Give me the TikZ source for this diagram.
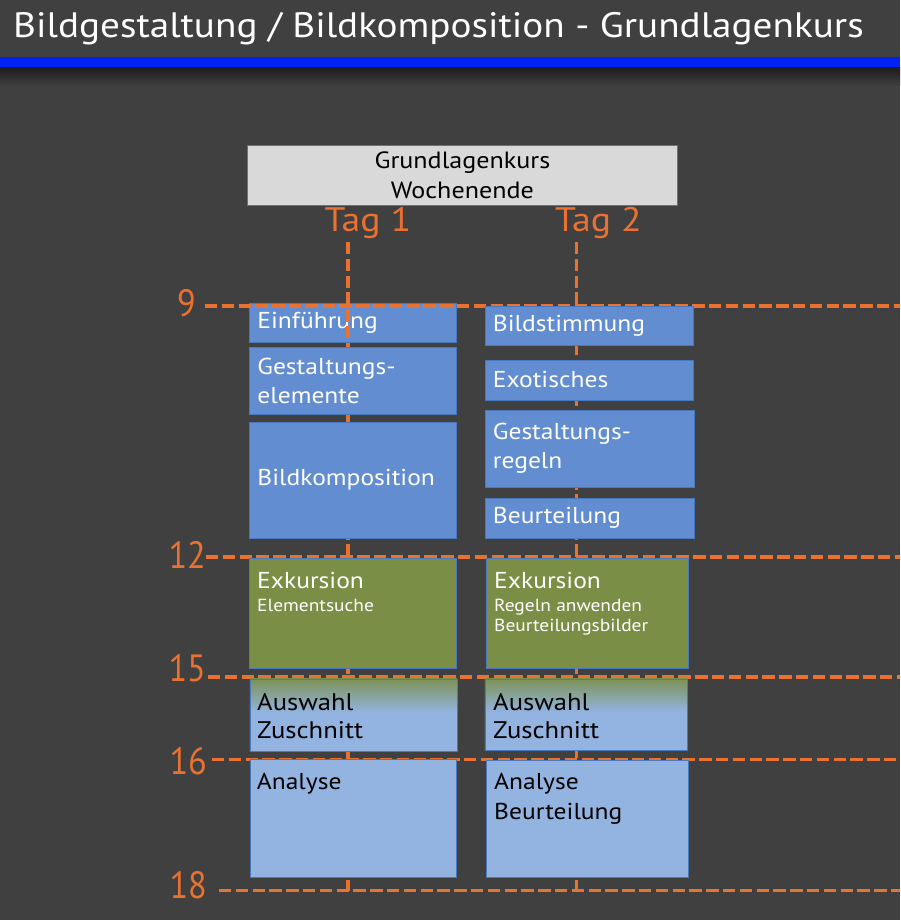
\documentclass[tikz,border=0pt]{standalone}
\usepackage{fontspec}
\setmainfont{PT Sans}[FakeStretch=1.11]
\newfontfamily\numfont{PT Sans}[FakeStretch=0.9]
\definecolor{bg}{HTML}{404040}
\definecolor{orng}{HTML}{EB7131}
\definecolor{bluebar}{HTML}{0022F5}
\definecolor{mblue}{HTML}{628DD0}
\definecolor{mblueb}{HTML}{4A78BC}
\definecolor{grn}{HTML}{7A8F45}
\definecolor{lblue}{HTML}{93B3E0}
\definecolor{hdrgray}{HTML}{D9D9D9}
\pgfdeclareverticalshading{auswshade}{100bp}{color(0bp)=(lblue); color(52bp)=(lblue); color(78bp)=(grn); color(100bp)=(grn)}
\tikzset{
  dline/.style={draw=orng, line width=3.5pt, dash pattern=on 12.3pt off 4.5pt},
  boxbase/.style={draw=mblueb, line width=0.8pt, anchor=north west, inner ysep=0pt, inner xsep=8pt, align=left},
  bbox/.style={boxbase, fill=mblue, text=white, font=\fontsize{23}{28.7}\selectfont},
  gbox/.style={boxbase, fill=grn},
  lbox/.style={boxbase, fill=lblue},
  gradbox/.style={boxbase, shade, shading=auswshade},
  hourlbl/.style={text=orng, anchor=base east, inner sep=0pt, font=\numfont\fontsize{38}{40}\selectfont},
  taglbl/.style={text=orng, anchor=base, inner sep=0pt, font=\fontsize{34}{36}\selectfont},
  wtxt/.style={text=white, anchor=base west, inner sep=0pt},
  ktxt/.style={text=black, anchor=base west, inner sep=0pt},
}
\begin{document}
\begin{tikzpicture}[x=1pt,y=-1pt]
\fill[bg] (0,0) rectangle (900,920);
\useasboundingbox (0,0) rectangle (900,920);
% title bar
\shade[top color=black!55!bg, bottom color=bg] (0,67.5) rectangle (900,86);
\fill[bluebar] (0,57.5) rectangle (900,67.5);
\node[text=white, anchor=base west, inner sep=0pt, font=\fontsize{35.3}{40}\selectfont] (title) at (13,37.5) {Bildgestaltung / Bildkomposition - Grundlagenkurs};

% header
\node[draw=mblueb, line width=0.8pt, fill=hdrgray, anchor=north west, minimum width=430pt, minimum height=60pt, inner sep=0pt, align=center, font=\fontsize{23.5}{30}\selectfont] (hdr) at (247,145) {Grundlagenkurs\\Wochenende};
\node[taglbl] (tag1) at (368,231) {Tag 1};
\node[taglbl] (tag2) at (598.4,231) {Tag 2};

% hour labels
\node[hourlbl] (h9) at (196,316.5) {9};
\node[hourlbl] (h12) at (206,568.5) {12};
\node[hourlbl] (h15) at (206,681) {15};
\node[hourlbl] (h16) at (207,774.5) {16};
\node[hourlbl] (h18) at (207,898.5) {18};

% coordinates for the grid lines
\coordinate (v1t) at (348,242);
\coordinate (v1b) at (348,890.5);
\coordinate (v2t) at (576.5,242);
\coordinate (v2b) at (576.5,890.5);
\coordinate (l9a) at (205,306);   \coordinate (l9b) at (900,306);
\coordinate (l12a) at (206,557);  \coordinate (l12b) at (900,557);
\coordinate (l15a) at (208,677);  \coordinate (l15b) at (900,677);
\coordinate (l16a) at (212,759.5);\coordinate (l16b) at (900,759.5);
\coordinate (l18a) at (219,890.5);\coordinate (l18b) at (900,890.5);

% Einfuehrung box lies under the lines
\node[bbox, text width=191pt, minimum height=39pt] (einf) at (249,302.5) {Einführung};

\draw[dline] (v1t) -- (v1b);
\draw[dline] (v2t) -- (v2b);
\draw[dline] (l9a) -- (l9b);
\draw[dline] (l12a) -- (l12b);
\draw[dline] (l15a) -- (l15b);
\draw[dline] (l16a) -- (l16b);
\draw[dline] (l18a) -- (l18b);

% day 1
\node[bbox, text width=191pt, minimum height=66.5pt] (gest) at (249,347) {Gestaltungs-\\elemente};
\node[bbox, text width=191pt, minimum height=116pt] (bildk) at (249,421.5) {Bildkomposition};
\node[gbox, minimum width=207pt, minimum height=110.5pt] (exk1) at (249,557.5) {};
\node[wtxt, font=\fontsize{23}{28}\selectfont] (exk1a) at (257,588.3) {Exkursion};
\node[wtxt, font=\fontsize{17.5}{21}\selectfont] (exk1b) at (257,611) {Elementsuche};
\node[gradbox, minimum width=207pt, minimum height=72.5pt] (ausw1) at (249.5,678.5) {};
\node[ktxt, font=\fontsize{24}{28}\selectfont] (ausw1a) at (257,710) {Auswahl};
\node[ktxt, font=\fontsize{24}{28}\selectfont] (ausw1b) at (257,738.3) {Zuschnitt};
\node[lbox, minimum width=206pt, minimum height=118pt] (ana1) at (249.5,759) {};
\node[ktxt, font=\fontsize{23}{28}\selectfont] (ana1a) at (256.7,789.3) {Analyse};

% day 2
\node[bbox, text width=192.5pt, minimum height=39pt] (bst) at (484.5,306) {Bildstimmung};
\node[bbox, text width=192.5pt, minimum height=40pt] (exo) at (484.5,359.5) {Exotisches};
\node[bbox, text width=193pt, minimum height=77pt] (greg) at (484.5,409.5) {Gestaltungs-\\regeln};
\node[bbox, text width=193.5pt, minimum height=40pt] (beurt) at (484.5,497.5) {Beurteilung};
\node[gbox, minimum width=202pt, minimum height=110.5pt] (exk2) at (486,557.5) {};
\node[wtxt, font=\fontsize{23}{28}\selectfont] (exk2a) at (494,588.3) {Exkursion};
\node[wtxt, font=\fontsize{17.5}{21}\selectfont] (exk2b) at (494,611) {Regeln anwenden};
\node[wtxt, font=\fontsize{17.5}{21}\selectfont] (exk2c) at (494,631.7) {Beurteilungsbilder};
\node[gradbox, minimum width=202pt, minimum height=71.5pt] (ausw2) at (484.5,678.5) {};
\node[ktxt, font=\fontsize{24}{28}\selectfont] (ausw2a) at (493,710) {Auswahl};
\node[ktxt, font=\fontsize{24}{28}\selectfont] (ausw2b) at (493,738.3) {Zuschnitt};
\node[lbox, minimum width=202pt, minimum height=117pt] (ana2) at (485.5,760) {};
\node[ktxt, font=\fontsize{23}{28}\selectfont] (ana2a) at (494,789.3) {Analyse};
\node[ktxt, font=\fontsize{23}{28}\selectfont] (ana2b) at (494,819.3) {Beurteilung};
\end{tikzpicture}
\end{document}
